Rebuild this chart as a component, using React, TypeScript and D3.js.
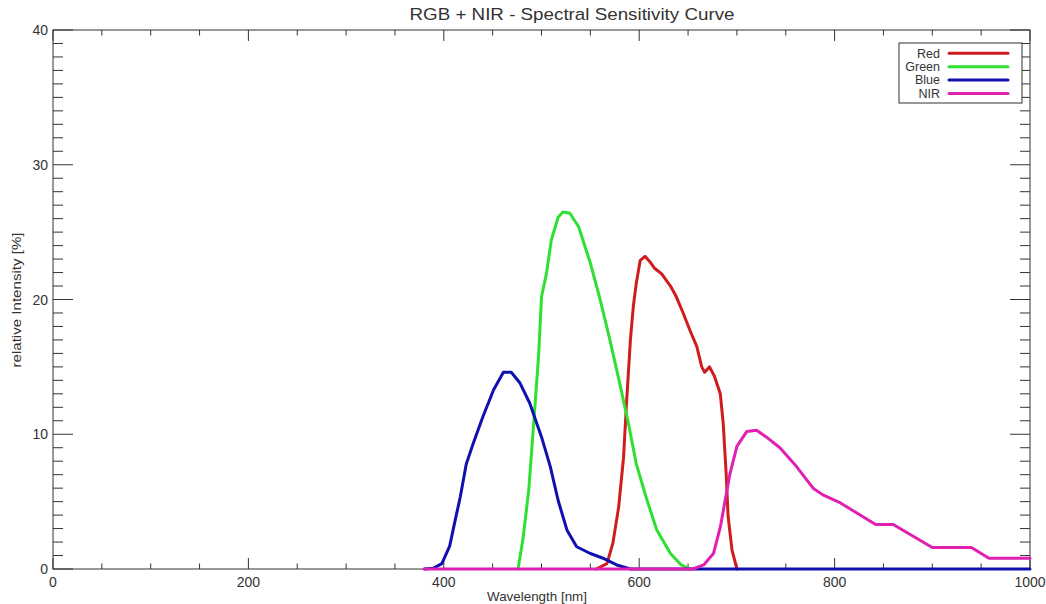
import React from "react";
import * as d3 from "d3";

const W = 1046;
const H = 604;

const xMajorTicks = [0, 200, 400, 600, 800, 1000];
const yMajorTicks = [0, 10, 20, 30, 40];

const seriesNames = ["Red", "Green", "Blue", "NIR"];
const seriesColors = ["#d01c1c", "#30e030", "#1010b0", "#e020b0"];

const redData: [number, number][] = [
  [556, 0], [567, 0.4], [573, 1.9], [579, 4.6], [584, 8.3], [587, 12.3], [591, 17.0],
  [594, 19.5], [597, 21.2], [601, 22.9], [606, 23.2], [611, 22.8], [616, 22.3],
  [623, 21.9], [632, 21.0], [638, 20.2], [645, 19.0], [652, 17.7], [659, 16.5],
  [664, 15.0], [667, 14.6], [672, 15.0], [677, 14.3], [683, 13.0], [686, 10.8],
  [689, 7.1], [691, 3.9], [695, 1.4], [700, 0],
];

const greenData: [number, number][] = [
  [476, 0], [481, 2.2], [487, 5.9], [492, 10.8], [497, 15.8], [500, 20.2], [505, 21.9],
  [510, 24.4], [517, 26.1], [522, 26.5], [529, 26.4], [538, 25.4], [550, 22.7],
  [560, 20.0], [570, 17.0], [580, 13.8], [589, 10.8], [597, 7.8], [608, 5.1],
  [618, 2.9], [632, 1.15], [643, 0.3], [652, 0],
];

const blueData: [number, number][] = [
  [380, 0], [389, 0.05], [398, 0.4], [406, 1.7], [411, 3.4], [417, 5.4], [423, 7.8],
  [430, 9.3], [440, 11.3], [451, 13.3], [461, 14.6], [469, 14.6], [478, 13.8],
  [488, 12.3], [500, 9.8], [509, 7.6], [517, 5.1], [526, 2.9], [536, 1.65],
  [550, 1.15], [563, 0.8], [577, 0.3], [591, 0], [1000, 0],
];

const nirData: [number, number][] = [
  [380, 0], [655, 0], [666, 0.3], [676, 1.15], [683, 3.1], [688, 5.1], [693, 7.1],
  [700, 9.1], [710, 10.2], [720, 10.3], [730, 9.8], [744, 9.0], [761, 7.6],
  [778, 6.0], [788, 5.5], [806, 4.9], [842, 3.3], [860, 3.3], [900, 1.6],
  [940, 1.6], [958, 0.8], [1000, 0.8],
];

const seriesData = [redData, greenData, blueData, nirData];

const left = 53;
const right = 1030;
const top = 30;
const bottom = 569;

export default function App() {
  const x = d3.scaleLinear().domain([0, 1000]).range([left, right]);
  const y = d3.scaleLinear().domain([0, 40]).range([bottom, top]);
  const line = d3
    .line<[number, number]>()
    .x((d) => x(d[0]))
    .y((d) => y(d[1]));

  const xMinor = d3.range(0, 1001, 50).filter((v) => v % 200 !== 0);
  const yMinor = d3.range(0, 41, 1).filter((v) => v % 10 !== 0);
  const axisColor = "#333";
  const xMajLen = 11;
  const xMinLen = 5.5;
  const yMajLen = 20;
  const yMinLen = 10;
  const font = "'Liberation Sans', Arial, sans-serif";

  return (
    <svg
      width={W}
      height={H}
      style={{ position: "absolute", left: 0, top: 0, background: "#fff" }}
      fontFamily={font}
    >
      <rect x={0} y={0} width={W} height={H} fill="#fff" />
      {/* ticks */}
      <g stroke={axisColor} strokeWidth={1}>
        {xMajorTicks.map((v) => (
          <g key={"xM" + v}>
            <line x1={x(v)} x2={x(v)} y1={bottom} y2={bottom - xMajLen} />
            <line x1={x(v)} x2={x(v)} y1={top} y2={top + xMajLen} />
          </g>
        ))}
        {xMinor.map((v) => (
          <g key={"xm" + v}>
            <line x1={x(v)} x2={x(v)} y1={bottom} y2={bottom - xMinLen} />
            <line x1={x(v)} x2={x(v)} y1={top} y2={top + xMinLen} />
          </g>
        ))}
        {yMajorTicks.map((v) => (
          <g key={"yM" + v}>
            <line x1={left} x2={left + yMajLen} y1={y(v)} y2={y(v)} />
            <line x1={right} x2={right - yMajLen} y1={y(v)} y2={y(v)} />
          </g>
        ))}
        {yMinor.map((v) => (
          <g key={"ym" + v}>
            <line x1={left} x2={left + yMinLen} y1={y(v)} y2={y(v)} />
            <line x1={right} x2={right - yMinLen} y1={y(v)} y2={y(v)} />
          </g>
        ))}
        <rect x={left} y={top} width={right - left} height={bottom - top} fill="none" />
      </g>
      {/* tick labels */}
      <g fontSize={14} fill="#333">
        {xMajorTicks.map((v) => (
          <text key={"xl" + v} x={x(v)} y={bottom + 18} textAnchor="middle">
            {v}
          </text>
        ))}
        {yMajorTicks.map((v) => (
          <text key={"yl" + v} x={left - 5} y={y(v) + 5} textAnchor="end">
            {v}
          </text>
        ))}
      </g>
      {/* series */}
      <g fill="none" strokeWidth={3} strokeLinejoin="round" strokeLinecap="round">
        {seriesData.map((d, i) => (
          <path key={seriesNames[i]} d={line(d) || ""} stroke={seriesColors[i]} />
        ))}
      </g>
      {/* title & labels */}
      <text x={572} y={20} textAnchor="middle" fontSize={17} fill="#333" textLength={325} lengthAdjust="spacingAndGlyphs">
        RGB + NIR - Spectral Sensitivity Curve
      </text>
      <text x={537} y={601} textAnchor="middle" fontSize={13} fill="#333" textLength={100} lengthAdjust="spacingAndGlyphs">
        Wavelength [nm]
      </text>
      <text
        transform={`translate(21,300) rotate(-90)`}
        textAnchor="middle"
        fontSize={13}
        fill="#333"
        textLength={135}
        lengthAdjust="spacingAndGlyphs"
      >
        relative Intensity [%]
      </text>
      {/* legend */}
      <g>
        <rect x={899} y={43} width={123} height={60} fill="#fff" stroke={axisColor} strokeWidth={1} />
        {seriesNames.map((n, i) => (
          <g key={"lg" + n}>
            <text x={940} y={57.5 + i * 13.4} textAnchor="end" fontSize={12.5} fill="#333">
              {n}
            </text>
            <line
              x1={949}
              x2={1008}
              y1={53.3 + i * 13.4}
              y2={53.3 + i * 13.4}
              stroke={seriesColors[i]}
              strokeWidth={3}
              strokeLinecap="round"
            />
          </g>
        ))}
      </g>
    </svg>
  );
}
